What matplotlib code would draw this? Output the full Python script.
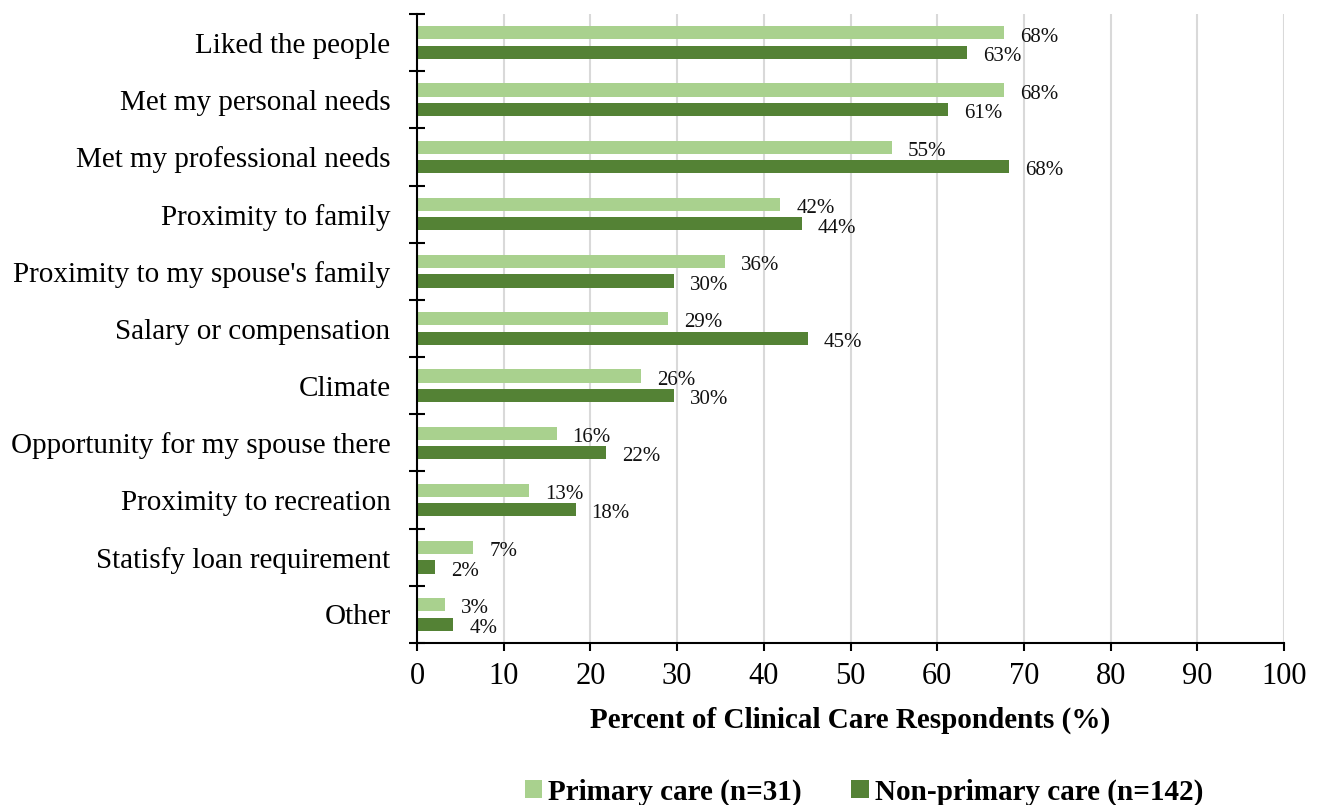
import matplotlib
matplotlib.use("Agg")
import matplotlib.pyplot as plt
from matplotlib.ticker import FixedLocator
import numpy as np

plt.rcParams['font.family'] = ['Liberation Serif', 'DejaVu Serif']

categories = [
    "Liked the people",
    "Met my personal needs",
    "Met my professional needs",
    "Proximity to family",
    "Proximity to my spouse's family",
    "Salary or compensation",
    "Climate",
    "Opportunity for my spouse there",
    "Proximity to recreation",
    "Statisfy loan requirement",
    "Other",
]
# percent of respondents in each group
primary = [67.7, 67.7, 54.8, 41.9, 35.5, 29.0, 25.8, 16.1, 12.9, 6.5, 3.2]
non_primary = [63.4, 61.3, 68.3, 44.4, 29.6, 45.1, 29.6, 21.8, 18.3, 2.1, 4.2]
series_names = ["Primary care (n=31)", "Non-primary care (n=142)"]
xticks = [0, 10, 20, 30, 40, 50, 60, 70, 80, 90, 100]

light = "#A9D18E"
dark = "#548235"


def pct(v):
    # round half up, as spreadsheet labels do
    return f"{int(np.floor(v + 0.5))}%"


fig = plt.figure(figsize=(13.19, 8.05), dpi=100)
ax = fig.add_axes([417 / 1319, 1 - 643 / 805, (1284 - 417) / 1319, (643 - 14) / 805])

y = np.arange(len(categories))
h = 0.23
off = 0.17
b1 = ax.barh(y - off, primary, height=h, color=light, zorder=3, label=series_names[0])
b2 = ax.barh(y + off, non_primary, height=h, color=dark, zorder=3, label=series_names[1])

for bars, vals in ((b1, primary), (b2, non_primary)):
    for rect, v in zip(bars, vals):
        ax.annotate(pct(v), xy=(v, rect.get_y() + rect.get_height() / 2),
                    xytext=(11.5, -3.0), textcoords="offset points",
                    ha="left", va="center", fontsize=15, color="#111111")

ax.set_ylim(len(categories) - 0.5, -0.5)
ax.set_xlim(0, 100)
ax.set_xticks(xticks)
ax.set_xticklabels([str(t) for t in xticks], fontsize=22)
ax.set_yticks(y)
ax.set_yticklabels(categories, fontsize=21)
ax.yaxis.set_minor_locator(FixedLocator(np.arange(-0.5, len(categories), 1.0)))
ax.tick_params(axis="y", which="major", length=0, pad=19)
ax.tick_params(axis="y", which="minor", direction="inout", length=12, width=1.5)
ax.tick_params(axis="x", which="major", direction="out", length=6, width=1.5, pad=8)

ax.grid(axis="x", color="#D9D9D9", linewidth=1.5, zorder=0)
for s in ("top", "right"):
    ax.spines[s].set_visible(False)
for s in ("left", "bottom"):
    ax.spines[s].set_linewidth(1.5)
    ax.spines[s].set_zorder(4)

fig.text(850.5 / 1319, 1 - 720 / 805, "Percent of Clinical Care Respondents (%)",
         ha="center", va="center", fontsize=21, fontweight="bold")

fig.legend(handles=[b1, b2], labels=series_names, loc="center",
           bbox_to_anchor=(864 / 1319, 1 - 792 / 805), ncol=2, frameon=False,
           prop={"size": 21, "weight": "bold"}, handlelength=0.6, handleheight=0.55,
           handletextpad=0.2, columnspacing=1.7, borderpad=0, borderaxespad=0)

fig.savefig("out.png", dpi=100)
